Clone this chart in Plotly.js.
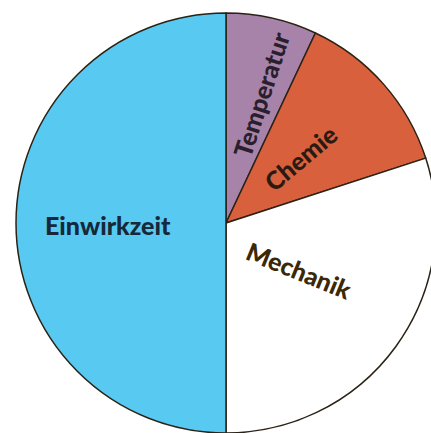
<!DOCTYPE html>
<html>
<head>
<meta charset="utf-8">
<script src="https://cdn.plot.ly/plotly-3.0.1.min.js"></script>
<style>
html,body{margin:0;padding:0;background:#ffffff;overflow:hidden;width:431px;height:433px;}
#chart{width:452px;height:446px;}
</style>
</head>
<body>
<div id="chart"></div>
<script>
// Data
const labels = ["Temperatur", "Chemie", "Mechanik", "Einwirkzeit"];
const values = [7, 13, 30, 50];
const sliceColors = ["#a783a9", "#d8603c", "#ffffff", "#58caf1"];
const labelColors = ["#2a1f2c", "#2a1a12", "#3b2805", "#16283a"];

// Label placement (pixel centres in the page and rotation), styling only
const W = 452, H = 446, ML = 16, MR = 16, MT = 13, MB = 13;
const PW = W - ML - MR, PH = H - MT - MB;
const labelPlace = [
  {px: 261, py: 94, angle: -72, size: 25},
  {px: 300, py: 158, angle: -40, size: 25},
  {px: 299, py: 270, angle: 22, size: 25},
  {px: 108, py: 225, angle: 0, size: 25}
];

const annotations = labels.map((t, i) => ({
  text: t,
  xref: "paper", yref: "paper",
  x: (labelPlace[i].px - ML) / PW,
  y: (H - MB - labelPlace[i].py) / PH,
  xanchor: "center", yanchor: "middle",
  textangle: labelPlace[i].angle,
  showarrow: false,
  font: {family: "Lato, 'Open Sans', sans-serif", weight: 900, size: labelPlace[i].size, color: labelColors[i]}
}));

const trace = {
  type: "pie",
  labels: labels,
  values: values,
  sort: false,
  direction: "clockwise",
  rotation: 0,
  textinfo: "none",
  hoverinfo: "label+percent",
  marker: {colors: sliceColors, line: {color: "#2b2216", width: 1.5}},
  showlegend: false
};

Plotly.newPlot("chart", [trace], {
  width: W, height: H,
  margin: {l: ML, r: MR, t: MT, b: MB, pad: 0},
  paper_bgcolor: "#ffffff",
  plot_bgcolor: "#ffffff",
  showlegend: false,
  annotations: annotations
}, {displayModeBar: false, staticPlot: true});
</script>
</body>
</html>
